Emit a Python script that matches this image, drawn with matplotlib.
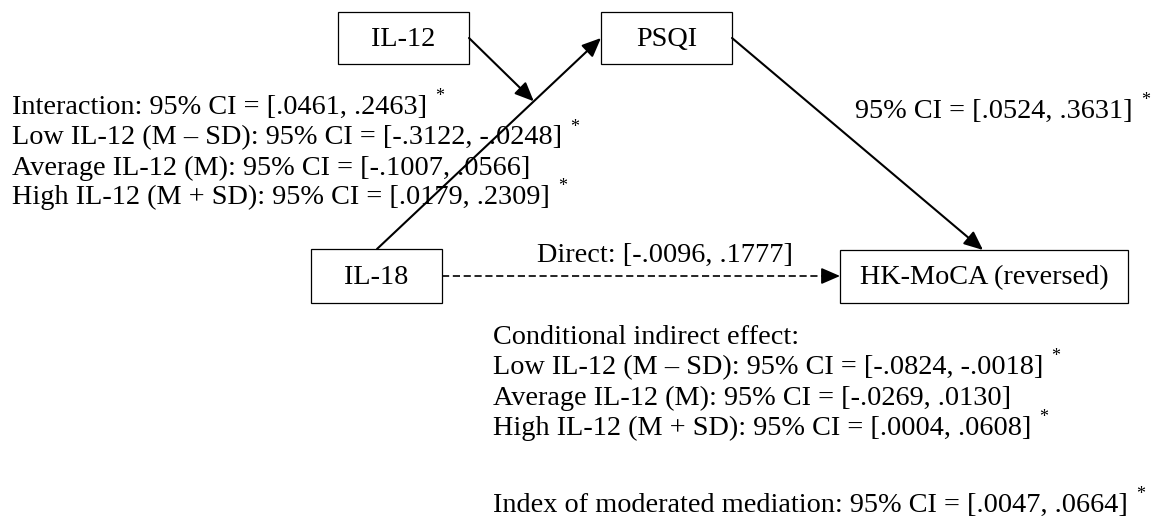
"""Moderated mediation path diagram (IL-18 -> PSQI -> HK-MoCA, moderated by IL-12)."""

import matplotlib
matplotlib.use("Agg")
import matplotlib.pyplot as plt
from matplotlib.patches import Rectangle, FancyArrowPatch, ArrowStyle

plt.rcParams["font.family"] = ["Liberation Serif", "DejaVu Serif"]

W, H = 1154, 519
FS = 20.3        # main text size (pt)
FS_STAR = 13     # superscript asterisk size (pt)

# --- node boxes (pixel layout, y downwards) ---
NODE_NAMES = ["IL-12", "PSQI", "IL-18", "HK-MoCA (reversed)"]
NODE_X0 = [338, 601, 311, 840]
NODE_X1 = [469, 732, 442, 1128]
NODE_Y0 = [12, 12, 249, 250]
NODE_Y1 = [64, 64, 303, 303]

# --- annotation text ---
MOD_LINES = [
    "Interaction: 95% CI = [.0461, .2463]",
    "Low IL-12 (M \u2013 SD): 95% CI = [-.3122, -.0248]",
    "Average IL-12 (M): 95% CI = [-.1007, .0566]",
    "High IL-12 (M + SD): 95% CI = [.0179, .2309]",
]
MOD_SIG = [True, True, False, True]

B_PATH_LABEL = "95% CI = [.0524, .3631]"
B_PATH_SIG = True

DIRECT_LABEL = "Direct: [-.0096, .1777]"

IND_LINES = [
    "Conditional indirect effect:",
    "Low IL-12 (M \u2013 SD): 95% CI = [-.0824, -.0018]",
    "Average IL-12 (M): 95% CI = [-.0269, .0130]",
    "High IL-12 (M + SD): 95% CI = [.0004, .0608]",
    "Index of moderated mediation: 95% CI = [.0047, .0664]",
]
IND_SIG = [False, True, False, True, True]

# text anchors (x left, baselines)
MOD_X, MOD_Y = 12, [114, 144.5, 175, 204]
B_X, B_Y = 855, 118
DIRECT_X, DIRECT_Y = 537, 262
IND_X, IND_Y = 493, [344, 374, 405, 435, 512]


def box(i):
    return NODE_X0[i], NODE_Y0[i], NODE_X1[i], NODE_Y1[i]


def mid_left(i):
    x0, y0, x1, y1 = box(i)
    return x0, (y0 + y1) / 2


def mid_right(i):
    x0, y0, x1, y1 = box(i)
    return x1, (y0 + y1) / 2


def arrow(ax, p0, p1, dashed=False):
    style = ArrowStyle("-|>", head_length=1.15, head_width=0.5)
    if dashed:
        # dashed shaft, solid head
        ax.plot([p0[0], p1[0] - 14], [p0[1], p1[1]], color="black", lw=1.2,
                linestyle=(0, (4.3, 2.2)), solid_capstyle="butt")
        a = FancyArrowPatch((p1[0] - 16, p1[1]), p1, arrowstyle=style,
                            mutation_scale=10, color="black", lw=1.2,
                            shrinkA=0, shrinkB=0)
    else:
        a = FancyArrowPatch(p0, p1, arrowstyle=style, mutation_scale=10,
                            color="black", lw=1.5, shrinkA=0, shrinkB=0)
    ax.add_patch(a)


def put_line(ax, fig, x, y, s, sig):
    t = ax.text(x, y, s, fontsize=FS, ha="left", va="baseline")
    if sig:
        fig.canvas.draw()
        bb = t.get_window_extent()
        x_end = ax.transData.inverted().transform((bb.x1, bb.y0))[0]
        ax.text(x_end + 8, y - 13, "*", fontsize=FS_STAR, ha="left", va="baseline")


fig = plt.figure(figsize=(W / 100, H / 100), dpi=100)
ax = fig.add_axes([0, 0, 1, 1])
ax.set_xlim(0, W)
ax.set_ylim(H, 0)
ax.axis("off")

# boxes
for i, name in enumerate(NODE_NAMES):
    x0, y0, x1, y1 = box(i)
    ax.add_patch(Rectangle((x0, y0), x1 - x0, y1 - y0, fill=False,
                           edgecolor="black", lw=0.9))
    ax.text((x0 + x1) / 2, (y0 + y1) / 2 + 1, name, fontsize=FS,
            ha="center", va="center")

# a path: IL-18 top -> PSQI left
a_start = (377, NODE_Y0[2])
a_end = mid_left(1)
arrow(ax, a_start, a_end)

# moderation arrow: IL-12 right -> point on a path
t = 0.70
mod_tip = (a_start[0] + t * (a_end[0] - a_start[0]),
           a_start[1] + t * (a_end[1] - a_start[1]))
arrow(ax, mid_right(0), mod_tip)

# b path: PSQI right -> HK-MoCA top
arrow(ax, mid_right(1), (983, NODE_Y0[3]))

# direct path (dashed): IL-18 right -> HK-MoCA left
arrow(ax, mid_right(2), (NODE_X0[3], mid_right(2)[1]), dashed=True)

# labels
for s, y, sig in zip(MOD_LINES, MOD_Y, MOD_SIG):
    put_line(ax, fig, MOD_X, y, s, sig)
put_line(ax, fig, B_X, B_Y, B_PATH_LABEL, B_PATH_SIG)
put_line(ax, fig, DIRECT_X, DIRECT_Y, DIRECT_LABEL, False)
for s, y, sig in zip(IND_LINES, IND_Y, IND_SIG):
    put_line(ax, fig, IND_X, y, s, sig)

fig.savefig("out.png", dpi=100, facecolor="white")
